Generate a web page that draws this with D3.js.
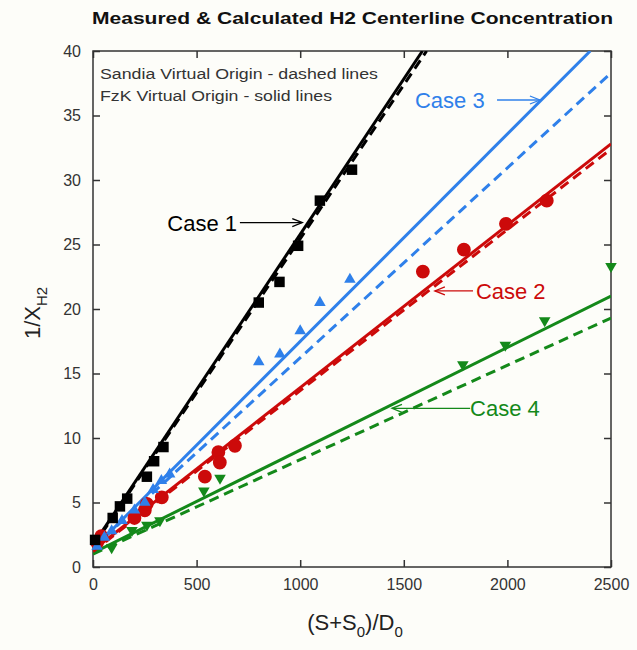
<!DOCTYPE html>
<html>
<head>
<meta charset="utf-8">
<script src="https://cdn.jsdelivr.net/npm/d3@7"></script>
<style>
  body { margin: 0; background: #fdfdf9; }
  svg { font-family: "Liberation Sans", Arial, sans-serif; }
</style>
</head>
<body>
<svg id="chart"></svg>
<script>
// data
const xTicks = [0, 500, 1000, 1500, 2000, 2500];
const yTicks = [0, 5, 10, 15, 20, 25, 30, 35, 40];

// measured points
const case1Points = [[10, 2.1], [95, 3.8], [130, 4.7], [165, 5.3], [260, 7.0], [295, 8.2], [340, 9.3],
  [800, 20.5], [900, 22.1], [990, 24.9], [1095, 28.4], [1250, 30.8]];
const case3Points = [[20, 1.6], [55, 2.3], [90, 2.8], [140, 3.6], [200, 4.4], [250, 5.0], [290, 6.0],
  [330, 6.7], [370, 7.2], [800, 15.9], [902, 16.5], [1000, 18.3], [1095, 20.5], [1240, 22.3]];
const case2Points = [[20, 1.9], [40, 2.4], [200, 3.8], [250, 4.4], [260, 4.9], [332, 5.4], [540, 7.0],
  [605, 8.9], [612, 8.1], [685, 9.4], [1592, 22.9], [1790, 24.6], [1993, 26.6], [2190, 28.4]];
const case4Points = [[90, 1.5], [188, 2.85], [260, 3.25], [323, 3.6], [535, 5.9], [613, 6.9],
  [1785, 15.7], [1990, 17.2], [2180, 19.1], [2500, 23.3]];

// calculated lines (solid = FzK, dashed = Sandia)
const case1Solid = [[0, 1.7], [1590, 40]];
const case1Dashed = [[0, 1.6], [1610, 40]];
const case3Solid = [[0, 1.4], [2400, 40]];
const case3Dashed = [[0, 1.5], [2500, 38.3]];
const case2Solid = [[0, 1.3], [2500, 32.8]];
const case2Dashed = [[0, 1.2], [2500, 32.4]];
const case4Solid = [[0, 1.1], [2500, 21.0]];
const case4Dashed = [[0, 1.0], [2500, 19.3]];

// annotations: label, text anchor point, arrow tail, arrow tip
const labels = ["Case 1", "Case 3", "Case 2", "Case 4"];
const labelAt = [[695, 26.7], [1554, 36.2], [1848, 21.4], [1820, 12.3]];
const arrowFrom = [[709, 26.7], [1950, 36.2], [1834, 21.4], [1820, 12.3]];
const arrowTo = [[1010, 26.7], [2157, 36.2], [1650, 21.4], [1443, 12.3]];

const colors = { c1: "#000000", c2: "#cc0a0a", c3: "#2f80ea", c4: "#14891a" };

const width = 637;
const height = 650;
const margin = { top: 51, right: 26, bottom: 83, left: 93 };

const x = d3.scaleLinear().domain([0, 2500]).range([margin.left, width - margin.right]);
const y = d3.scaleLinear().domain([0, 40]).range([height - margin.bottom, margin.top]);

const svg = d3.select("#chart").attr("width", width).attr("height", height);

svg.append("defs").append("clipPath").attr("id", "clip")
  .append("rect")
  .attr("x", x(0)).attr("y", y(40))
  .attr("width", x(2500) - x(0)).attr("height", y(0) - y(40));

// title (source text is stretched wide)
svg.append("text")
  .attr("x", 92).attr("y", 24)
  .attr("font-weight", "bold")
  .attr("font-size", 17)
  .attr("fill", "#111")
  .attr("textLength", 521)
  .attr("lengthAdjust", "spacingAndGlyphs")
  .text("Measured & Calculated H2 Centerline Concentration");

// axes with inward ticks
const tickLen = 7;
svg.append("g")
  .attr("transform", `translate(0,${y(0)})`)
  .call(d3.axisBottom(x).tickValues(xTicks).tickSize(-tickLen).tickSizeOuter(0).tickPadding(12).tickFormat(d3.format("d")))
  .call((g) => g.select(".domain").remove());
svg.append("g")
  .attr("transform", `translate(0,${y(40)})`)
  .call(d3.axisTop(x).tickValues(xTicks).tickSize(-tickLen).tickSizeOuter(0).tickFormat(""))
  .call((g) => g.select(".domain").remove());
svg.append("g")
  .attr("transform", `translate(${x(0)},0)`)
  .call(d3.axisLeft(y).tickValues(yTicks).tickSize(-tickLen).tickSizeOuter(0).tickPadding(12))
  .call((g) => g.select(".domain").remove());
svg.append("g")
  .attr("transform", `translate(${x(2500)},0)`)
  .call(d3.axisRight(y).tickValues(yTicks).tickSize(-tickLen).tickSizeOuter(0).tickFormat(""))
  .call((g) => g.select(".domain").remove());

svg.selectAll(".tick line").attr("stroke", "#333").attr("stroke-width", 1.5);
svg.selectAll(".tick text").attr("font-size", 16).attr("fill", "#333")
  .attr("font-family", "Liberation Sans, Arial, sans-serif");

svg.append("rect")
  .attr("x", x(0)).attr("y", y(40))
  .attr("width", x(2500) - x(0)).attr("height", y(0) - y(40))
  .attr("fill", "none").attr("stroke", "#333").attr("stroke-width", 1.5);

// axis titles
const yLab = svg.append("text")
  .attr("transform", `translate(40,${(y(0) + y(40)) / 2 + 4}) rotate(-90)`)
  .attr("text-anchor", "middle")
  .attr("font-size", 22)
  .attr("fill", "#222");
yLab.append("tspan").text("1/X");
yLab.append("tspan").attr("dy", 7).attr("font-size", 15).text("H2");

const xLab = svg.append("text")
  .attr("x", 355).attr("y", 630)
  .attr("text-anchor", "middle")
  .attr("font-size", 22)
  .attr("fill", "#222");
xLab.append("tspan").text("(S+S");
xLab.append("tspan").attr("dy", 7).attr("font-size", 15).text("0");
xLab.append("tspan").attr("dy", -7).text(")/D");
xLab.append("tspan").attr("dy", 7).attr("font-size", 15).text("0");

// legend note
svg.append("text").attr("x", 100).attr("y", 79).attr("font-size", 15.5).attr("fill", "#333")
  .attr("textLength", 278).attr("lengthAdjust", "spacingAndGlyphs")
  .text("Sandia Virtual Origin - dashed lines");
svg.append("text").attr("x", 100).attr("y", 101).attr("font-size", 15.5).attr("fill", "#333")
  .attr("textLength", 232).attr("lengthAdjust", "spacingAndGlyphs")
  .text("FzK Virtual Origin - solid lines");

// lines
const line = d3.line().x((d) => x(d[0])).y((d) => y(d[1]));
const plot = svg.append("g").attr("clip-path", "url(#clip)");
const series = [
  [case4Dashed, colors.c4, true], [case4Solid, colors.c4, false],
  [case2Dashed, colors.c2, true], [case2Solid, colors.c2, false],
  [case3Dashed, colors.c3, true], [case3Solid, colors.c3, false],
  [case1Dashed, colors.c1, true], [case1Solid, colors.c1, false],
];
series.forEach(([d, c, dashed]) => {
  plot.append("path")
    .datum(d)
    .attr("fill", "none")
    .attr("stroke", c)
    .attr("stroke-width", 3)
    .attr("stroke-dasharray", dashed ? "10,6" : null)
    .attr("d", line);
});

// markers
const markers = [
  [case4Points, colors.c4, d3.symbolTriangle, 58, 180],
  [case2Points, colors.c2, d3.symbolCircle, 150, 0],
  [case3Points, colors.c3, d3.symbolTriangle, 58, 0],
  [case1Points, colors.c1, d3.symbolSquare, 110, 0],
];
markers.forEach(([pts, c, type, size, rot]) => {
  svg.append("g").selectAll("path")
    .data(pts)
    .join("path")
    .attr("transform", (d) => `translate(${x(d[0])},${y(d[1])}) rotate(${rot})`)
    .attr("d", d3.symbol().type(type).size(size))
    .attr("fill", c);
});

// annotations
const labelColors = [colors.c1, colors.c3, colors.c2, colors.c4];
labels.forEach((t, i) => {
  const c = labelColors[i];
  const x1 = x(arrowFrom[i][0]), y1 = y(arrowFrom[i][1]);
  const x2 = x(arrowTo[i][0]), y2 = y(arrowTo[i][1]);
  svg.append("line")
    .attr("x1", x1).attr("y1", y1).attr("x2", x2).attr("y2", y2)
    .attr("stroke", c).attr("stroke-width", 1.3);
  const dir = Math.sign(x2 - x1);
  svg.append("path")
    .attr("d", `M${x2 - dir * 10},${y2 - 4}L${x2},${y2}L${x2 - dir * 10},${y2 + 4}`)
    .attr("fill", "none").attr("stroke", c).attr("stroke-width", 1.3);
  svg.append("text")
    .attr("x", x(labelAt[i][0]))
    .attr("y", y(labelAt[i][1]) + 8)
    .attr("text-anchor", i === 0 ? "end" : "start")
    .attr("font-size", 22)
    .attr("fill", c)
    .text(t);
});
</script>
</body>
</html>
